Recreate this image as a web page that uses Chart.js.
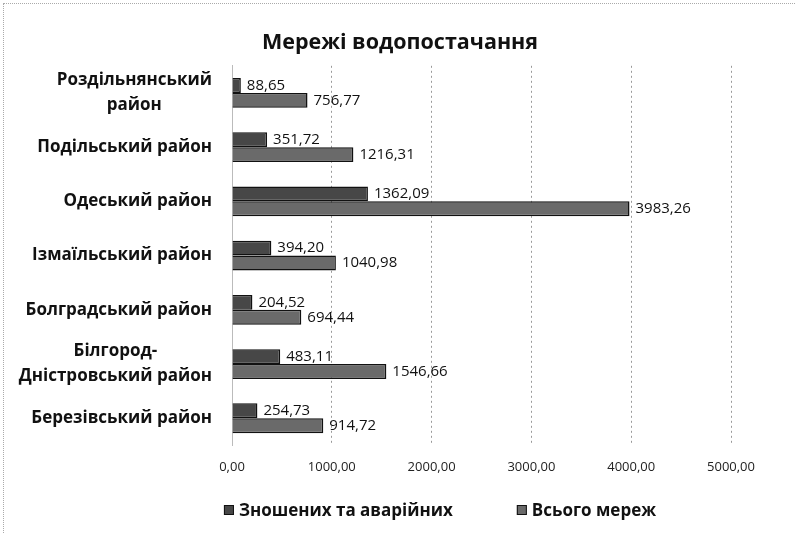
<!DOCTYPE html>
<html>
<head>
<meta charset="utf-8">
<script src="https://cdn.jsdelivr.net/npm/chart.js@4.4.1/dist/chart.umd.min.js"></script>
<style>
    html, body { margin: 0; padding: 0; background: #fff; }
    #wrap { position: relative; width: 795px; height: 533px; }
    #frame { position: absolute; left: 3px; top: 3px; right: 0; bottom: 0;
             border-left: 1px dotted #aaa; border-top: 1px dotted #aaa; pointer-events: none; }
</style>
</head>
<body>
<div id="wrap">
    <canvas id="waterChart"></canvas>
    <div id="frame"></div>
</div>
<script>
const categories = [
    ["Роздільнянський", "район"],
    ["Подільський район"],
    ["Одеський район"],
    ["Ізмаїльський район"],
    ["Болградський район"],
    ["Білгород-", "Дністровський район"],
    ["Березівський район"]
];
const wornOut = [88.65, 351.72, 1362.09, 394.20, 204.52, 483.11, 254.73];
const totalNet = [756.77, 1216.31, 3983.26, 1040.98, 694.44, 1546.66, 914.72];
const xTicks = [0, 1000, 2000, 3000, 4000, 5000];

const fmt = v => v.toFixed(2).replace(".", ",");
const FONT = "'Open Sans'";

// підписи категорій: рядки по центру, блок вирівняний праворуч
const categoryLabels = {
    id: "categoryLabels",
    afterDraw(chart) {
        const ctx = chart.ctx;
        const yScale = chart.scales.y;
        const right = chart.chartArea.left - 20;
        const lineH = 25;
        ctx.save();
        ctx.font = `bold 17px ${FONT}`;
        ctx.fillStyle = "#111";
        ctx.textAlign = "center";
        ctx.textBaseline = "middle";
        categories.forEach((lines, i) => {
            const w = Math.max(...lines.map(l => ctx.measureText(l).width));
            const cx = right - w / 2;
            const cy = yScale.getPixelForValue(i);
            lines.forEach((l, k) => {
                ctx.fillText(l, cx, cy + (k - (lines.length - 1) / 2) * lineH);
            });
        });
        ctx.restore();
    }
};

// значення біля кінця смуг
const valueLabels = {
    id: "valueLabels",
    afterDatasetsDraw(chart) {
        const ctx = chart.ctx;
        ctx.save();
        ctx.font = `15px ${FONT}`;
        ctx.fillStyle = "#111";
        ctx.textAlign = "left";
        ctx.textBaseline = "middle";
        chart.data.datasets.forEach((ds, di) => {
            chart.getDatasetMeta(di).data.forEach((bar, i) => {
                ctx.fillText(fmt(ds.data[i]), bar.x + 6, bar.y);
            });
        });
        ctx.restore();
    }
};

// легенда внизу з широким проміжком між пунктами
const bottomLegend = {
    id: "bottomLegend",
    afterDraw(chart) {
        const ctx = chart.ctx;
        const y = chart.height - 23;
        const gap = 64;
        ctx.save();
        ctx.font = `bold 17px ${FONT}`;
        ctx.textBaseline = "middle";
        ctx.textAlign = "left";
        const items = chart.data.datasets.map(ds => ({
            ds, w: 10 + 5 + ctx.measureText(ds.label).width
        }));
        const total = items.reduce((s, it) => s + it.w, 0) + gap * (items.length - 1);
        let x = 440 - total / 2;
        items.forEach(({ ds, w }) => {
            ctx.fillStyle = ds.backgroundColor;
            ctx.fillRect(x, y - 5, 10, 10);
            ctx.strokeStyle = ds.borderColor;
            ctx.lineWidth = 1;
            ctx.strokeRect(x + 0.5, y - 4.5, 9, 9);
            ctx.fillStyle = "#111";
            ctx.fillText(ds.label, x + 15, y + 1);
            x += w + gap;
        });
        ctx.restore();
    }
};

const ctx = document.getElementById("waterChart").getContext("2d");
new Chart(ctx, {
    type: "bar",
    data: {
        labels: categories,
        datasets: [
            {
                label: "Зношених та аварійних",
                data: wornOut,
                backgroundColor: "#474747",
                borderColor: "#111",
                borderWidth: 1.5
            },
            {
                label: "Всього мереж",
                data: totalNet,
                backgroundColor: "#6a6a6a",
                borderColor: "#111",
                borderWidth: 1.5
            }
        ]
    },
    options: {
        indexAxis: "y",
        responsive: true,
        maintainAspectRatio: false,
        animation: false,
        categoryPercentage: 0.55,
        barPercentage: 1,
        layout: { padding: { left: 69, right: 64, top: 0, bottom: 44 } },
        scales: {
            x: {
                min: 0,
                max: 5000,
                afterBuildTicks: s => { s.ticks = xTicks.map(v => ({ value: v })); },
                ticks: {
                    font: { family: FONT, size: 13 },
                    color: "#222",
                    padding: 14,
                    callback: v => fmt(v)
                },
                grid: { color: "#999", drawTicks: false },
                border: { display: false, dash: [2, 3] }
            },
            y: {
                afterFit: s => { s.width = 232 - 69; },
                ticks: { display: false },
                grid: { display: false },
                border: { display: true, color: "#bbb", dash: [2, 3] }
            }
        },
        plugins: {
            title: {
                display: true,
                text: "Мережі водопостачання",
                color: "#111",
                font: { family: FONT, size: 21.5, weight: "bold" },
                padding: { top: 30, bottom: 10 }
            },
            legend: { display: false },
            tooltip: { enabled: false }
        }
    },
    plugins: [categoryLabels, valueLabels, bottomLegend]
});
</script>
</body>
</html>
